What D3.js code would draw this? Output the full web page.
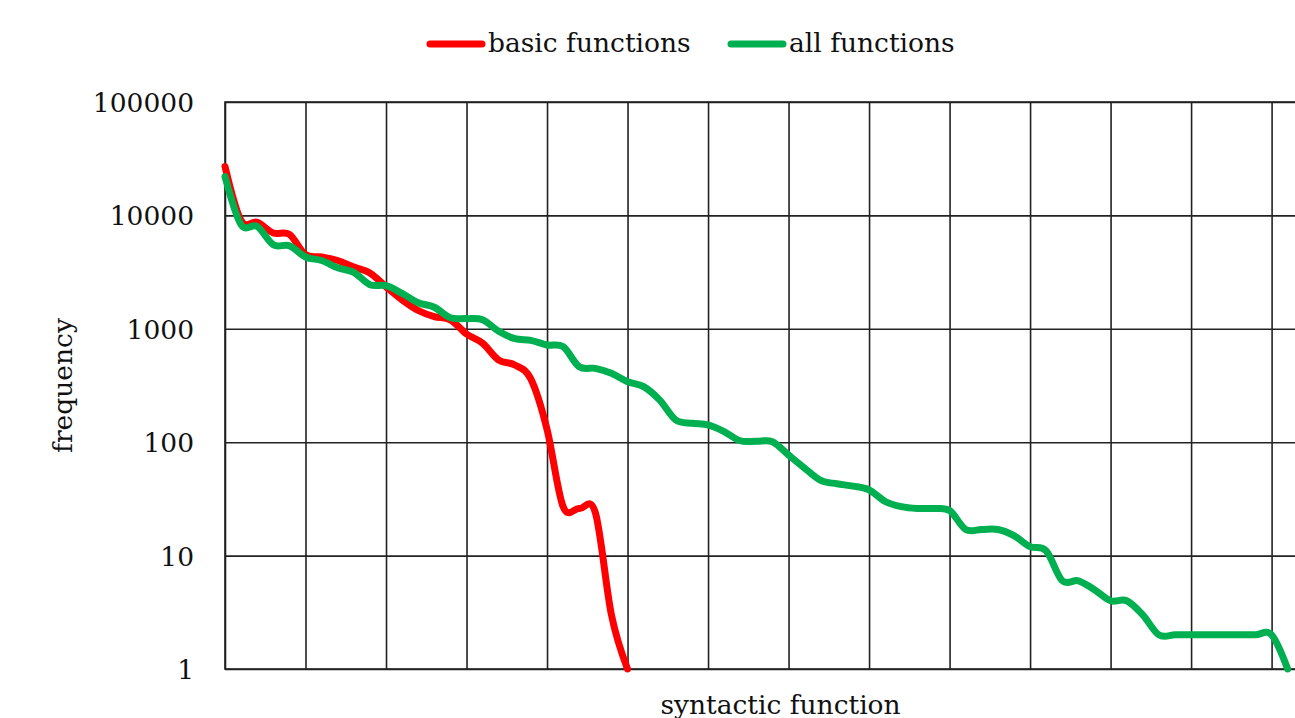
<!DOCTYPE html>
<html>
<head>
<meta charset="utf-8">
<script src="https://cdn.jsdelivr.net/npm/d3@7"></script>
<style>
body { margin: 0; background: #fff; }
svg text { font-family: "DejaVu Serif", serif; fill: #111; }
</style>
</head>
<body>
<svg></svg>
<script>
// rank-frequency values, one per syntactic function
var basicFunctions = [27000, 9000, 8700, 7000, 6800, 4500, 4300, 4000, 3500, 3100,
    2350, 1800, 1450, 1280, 1200, 900, 745, 530, 480, 360,
    130, 27, 26, 24, 3, 1];
var allFunctions = [22000, 8300, 8000, 5500, 5400, 4300, 4000, 3450, 3150, 2450,
    2400, 2050, 1700, 1550, 1250, 1230, 1200, 950, 820, 790,
    720, 695, 463, 448, 405, 342, 309, 235, 157, 147,
    142, 124, 103, 102, 101, 77, 59, 46, 43, 41,
    38, 30, 27, 26, 26, 25, 17, 17, 17, 15,
    12, 11, 6, 6, 5, 4, 4, 3, 2, 2,
    2, 2, 2, 2, 2, 2, 1];
var yTicks = [1, 10, 100, 1000, 10000, 100000];
var categoryCount = 70;
var seriesNames = ["basic functions", "all functions"];
var seriesColors = ["#ff0000", "#00b050"];

var svgWidth = 1295, svgHeight = 718;
var marginLeft = 225, marginTop = 102;
var plotWidth = 1111, plotHeight = 567;

var svg = d3.select("svg")
    .attr("width", svgWidth)
    .attr("height", svgHeight);

var xScale = d3.scaleLinear()
    .domain([0, categoryCount - 1])
    .range([0, plotWidth]);

var yScale = d3.scaleLog()
    .domain([1, 100000])
    .range([plotHeight, 0]);

var plot = svg.append("g")
    .attr("transform", "translate(" + marginLeft + "," + marginTop + ")");

// vertical gridlines every 5 categories
var xAxis = plot.append("g")
    .attr("transform", "translate(0," + plotHeight + ")")
    .call(d3.axisBottom(xScale)
        .tickValues(d3.range(0, categoryCount, 5))
        .tickSize(-plotHeight)
        .tickFormat(""));
xAxis.select(".domain").remove();

var yAxis = plot.append("g")
    .call(d3.axisLeft(yScale)
        .tickValues(yTicks)
        .tickSize(-plotWidth)
        .tickPadding(31)
        .tickFormat(d3.format("d")));
yAxis.select(".domain").remove();

plot.selectAll(".tick line")
    .attr("stroke", "#222")
    .attr("stroke-width", 1.6);

yAxis.selectAll("text")
    .attr("font-size", 26.5)
    .attr("fill", "#111")
    .attr("dy", "0.36em");

plot.append("rect")
    .attr("width", plotWidth)
    .attr("height", plotHeight)
    .attr("fill", "none")
    .attr("stroke", "#222")
    .attr("stroke-width", 1.6);

var line = d3.line()
    .x(function(d, i) { return xScale(i); })
    .y(function(d) { return yScale(d); })
    .curve(d3.curveCardinal.tension(0));

plot.selectAll(".series")
    .data([basicFunctions, allFunctions])
    .enter()
    .append("path")
    .attr("class", "series")
    .attr("d", line)
    .attr("fill", "none")
    .attr("stroke", function(d, i) { return seriesColors[i]; })
    .attr("stroke-width", 7)
    .attr("stroke-linejoin", "round")
    .attr("stroke-linecap", "round");

// legend
var legend = svg.selectAll(".legend")
    .data(seriesNames)
    .enter()
    .append("g")
    .attr("class", "legend")
    .attr("transform", function(d, i) { return "translate(" + (430 + i * 301) + ",44)"; });

legend.append("line")
    .attr("x1", 0)
    .attr("x2", 52)
    .attr("stroke", function(d, i) { return seriesColors[i]; })
    .attr("stroke-width", 7)
    .attr("stroke-linecap", "round");

legend.append("text")
    .attr("x", 58)
    .attr("y", 8)
    .attr("font-size", 26.5)
    .text(function(d) { return d; });

// axis titles
svg.append("text")
    .attr("x", marginLeft + plotWidth / 2)
    .attr("y", 714)
    .attr("text-anchor", "middle")
    .attr("font-size", 26.5)
    .text("syntactic function");

svg.append("text")
    .attr("transform", "translate(72," + (marginTop + plotHeight / 2) + ") rotate(-90)")
    .attr("text-anchor", "middle")
    .attr("font-size", 26.5)
    .text("frequency");
</script>
</body>
</html>
